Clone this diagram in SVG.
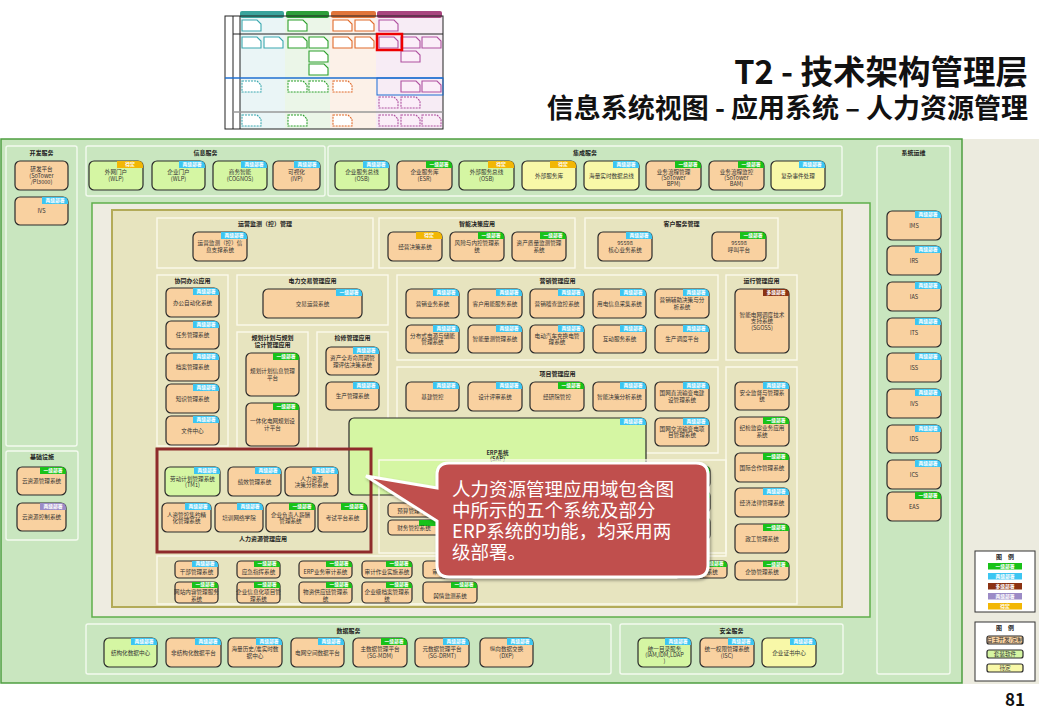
<svg xmlns="http://www.w3.org/2000/svg" width="1039" height="720" viewBox="0 0 1039 720">
<defs>
<style>
.t{font-family:"Noto Sans CJK SC","Noto Sans",sans-serif;font-size:5.6px;fill:#333;text-anchor:middle}
.pt{font-family:"Noto Sans CJK SC","Noto Sans",sans-serif;font-size:6px;font-weight:bold;fill:#222;text-anchor:middle}
.bt{font-family:"Noto Sans CJK SC","Noto Sans",sans-serif;font-size:4.8px;font-weight:bold;fill:#fff;text-anchor:middle}
.ct{font-family:"Noto Sans CJK SC","Noto Sans",sans-serif;font-size:18.5px;fill:#fff}
.hd{font-family:"Noto Sans CJK SC","Noto Sans",sans-serif;font-weight:bold;fill:#111;text-anchor:end}
.o{fill:#f9d1a0;stroke:#2a2a2a;stroke-width:1.2}
.g{fill:#d5f6a3;stroke:#2a2a2a;stroke-width:1.2}
.y{fill:#f8f8a8;stroke:#2a2a2a;stroke-width:1.2}
.b1{fill:#19c219}.b2{fill:#3cc6f2}.bd{fill:#f2b705}.bm{fill:#8b3212}.bp{fill:#9b8bc6}
.p{fill:none;stroke:#f3faef;stroke-width:1.4}
.pk{fill:none;stroke:#fbf9ec;stroke-width:1.4}
.doc{stroke-width:1.1}
.dt{stroke:#3aa8b0;fill:#fff}.dg{stroke:#2ca02c;fill:#fff}.do{stroke:#e06a2a;fill:#fff}.dp{stroke:#b050a0;fill:#fbeef8}
.ds{stroke-dasharray:2 1}
</style>
<filter id="sh" x="-10%" y="-10%" width="130%" height="130%"><feDropShadow dx="1.5" dy="2" stdDeviation="1.5" flood-color="#000" flood-opacity="0.35"/></filter>
</defs>
<rect x="0" y="0" width="1039" height="720" fill="#fff"/>

<!-- thumbnail -->
<g id="thumbnail">
<rect x="240" y="16" width="45" height="113" fill="#eaf5f6"/>
<rect x="285" y="16" width="45" height="113" fill="#ebf6e8"/>
<rect x="330" y="16" width="46" height="113" fill="#fcf1e8"/>
<rect x="376" y="16" width="67" height="113" fill="#f7ecf5"/>
<rect x="240" y="11" width="44" height="7" rx="2" fill="#3aa39c"/>
<rect x="286" y="11" width="43" height="7" rx="2" fill="#2e9e3a"/>
<rect x="331" y="11" width="45" height="7" rx="2" fill="#e0753a"/>
<rect x="377" y="11" width="65" height="7" rx="2" fill="#a8457f"/>
<rect x="225" y="16" width="218" height="113" fill="none" stroke="#222" stroke-width="1"/>
<line x1="233" y1="16" x2="233" y2="129" stroke="#222"/>
<line x1="240" y1="16" x2="240" y2="129" stroke="#222"/>
<line x1="233" y1="34" x2="443" y2="34" stroke="#222"/>
<line x1="233" y1="112" x2="443" y2="112" stroke="#999" stroke-width="1.5"/>
<line x1="225" y1="78" x2="443" y2="78" stroke="#1f6fd0" stroke-width="1.5"/>
<rect x="377" y="78" width="66" height="17" fill="none" stroke="#1f6fd0" stroke-width="1"/>
<path class="doc dt" d="M242 20h15l4 4v7h-19z"/>
<path class="doc dg" d="M288 20h15l4 4v7h-19z"/>
<path class="doc do" d="M333 20h15l4 4v7h-19z"/>
<path class="doc do" d="M355 20h15l4 4v7h-19z"/>
<path class="doc dp" d="M379 20h15l4 4v7h-19z"/>
<path class="doc dt" d="M242 37h15l4 4v7h-19z"/>
<path class="doc dt" d="M264 37h15l4 4v7h-19z"/>
<path class="doc dg" d="M288 37h15l4 4v7h-19z"/>
<path class="doc dg" d="M309 37h15l4 4v7h-19z"/>
<path class="doc dg" d="M309 51h15l4 4v7h-19z"/>
<path class="doc dg" d="M309 64h15l4 4v7h-19z"/>
<path class="doc do" d="M333 37h15l4 4v7h-19z"/>
<path class="doc do" d="M355 37h15l4 4v7h-19z"/>
<path class="doc dp" d="M379 37h15l4 4v7h-19z"/>
<path class="doc dp" d="M401 37h15l4 4v7h-19z"/>
<path class="doc dp" d="M422 37h15l4 4v7h-19z"/>
<path class="doc dp" d="M401 51h15l4 4v7h-19z"/>
<path class="doc dt ds" d="M242 81h15l4 4v7h-19z"/>
<path class="doc dg ds" d="M288 81h15l4 4v7h-19z"/>
<path class="doc dg ds" d="M309 81h15l4 4v7h-19z"/>
<path class="doc do ds" d="M333 81h15l4 4v7h-19z"/>
<path class="doc dp" d="M401 81h15l4 4v7h-19z"/>
<path class="doc dp" d="M422 81h15l4 4v7h-19z"/>
<path class="doc dp ds" d="M379 97h15l4 4v7h-19z"/>
<path class="doc dp ds" d="M401 97h15l4 4v7h-19z"/>
<path class="doc dt ds" d="M242 115h15l4 4v7h-19z"/>
<path class="doc dg ds" d="M288 115h15l4 4v7h-19z"/>
<path class="doc do ds" d="M333 115h15l4 4v7h-19z"/>
<path class="doc dp ds" d="M379 115h15l4 4v7h-19z"/>
<path class="doc dp ds" d="M401 115h15l4 4v7h-19z"/>
<path class="doc dp ds" d="M422 115h15l4 4v7h-19z"/>
<rect x="377" y="34" width="25" height="16" fill="none" stroke="#e00" stroke-width="2.5"/>
</g>

<!-- headings -->
<text class="hd" x="1028" y="84" font-size="32.5">T2 - 技术架构管理层</text>
<text class="hd" x="1028" y="118" font-size="27">信息系统视图 - 应用系统 – 人力资源管理</text>
<text class="hd" x="1025" y="706" font-size="17">81</text>

<!-- backgrounds -->
<rect x="962" y="139" width="77" height="545" fill="#ecebdf"/>
<rect x="1" y="139" width="961" height="544" fill="#c9e6bf" stroke="#4e9e40" stroke-width="1.5"/>
<rect x="92" y="203" width="778" height="414" fill="#eeece1" stroke="#5fae4b" stroke-width="1.5"/>
<rect x="112" y="210" width="730" height="397" fill="#e7e4bf" stroke="#b3ab58" stroke-width="2"/>

<!-- panels -->
<g id="panels">
<rect class="p" x="6" y="146" width="71" height="300" rx="2"/><text class="pt" x="41.5" y="155">开发服务</text>
<rect class="p" x="6" y="451" width="72" height="89" rx="2"/><text class="pt" x="42" y="459">基础设施</text>
<rect class="p" x="86" y="146" width="239" height="50" rx="2"/><text class="pt" x="205.5" y="155">信息服务</text>
<rect class="p" x="328" y="146" width="514" height="50" rx="2"/><text class="pt" x="585" y="155">集成服务</text>
<rect class="p" x="877" y="146" width="73" height="528" rx="2"/><text class="pt" x="913.5" y="155">系统运维</text>
<rect class="p" x="86" y="624" width="525" height="50" rx="2"/><text class="pt" x="348.5" y="633">数据服务</text>
<rect class="p" x="620" y="624" width="223" height="50" rx="2"/><text class="pt" x="731.5" y="633">安全服务</text>
<rect class="pk" x="157" y="218" width="216" height="50"/><text class="pt" x="265" y="226">运营监测（控）管理</text>
<rect class="pk" x="379" y="218" width="196" height="50"/><text class="pt" x="477" y="226">智能决策应用</text>
<rect class="pk" x="585" y="218" width="193" height="50"/><text class="pt" x="681.5" y="226">客户服务管理</text>
<rect class="pk" x="157" y="275" width="71" height="171"/><text class="pt" x="192.5" y="283">协同办公应用</text>
<rect class="pk" x="237" y="275" width="151" height="50"/><text class="pt" x="312.5" y="283">电力交易管理应用</text>
<rect class="pk" x="237" y="332" width="71" height="116"/><text class="pt" x="272.5" y="339.6">规划计划与规划</text><text class="pt" x="272.5" y="347">设计管理应用</text>
<rect class="pk" x="317" y="332" width="71" height="116"/><text class="pt" x="352.5" y="340">检修管理应用</text>
<rect class="pk" x="397" y="275" width="321" height="85"/><text class="pt" x="557.5" y="283">营销管理应用</text>
<rect class="pk" x="726" y="275" width="71" height="85"/><text class="pt" x="761.5" y="283">运行管理应用</text>
<rect class="pk" x="397" y="367" width="321" height="86"/><text class="pt" x="557.5" y="376">项目管理应用</text>
</g>

<g id="n-erp"><rect class="g" x="349" y="418" width="297" height="77" rx="5"/><path class="b2" d="M620 418H641Q646 418 646 423V425H620Z"/><text class="bt" x="633" y="423.3">两级部署</text><text class="t" x="497.5" y="454.5" font-weight="bold">ERP系统</text><text class="t" x="497.5" y="461.2" font-weight="bold">(SAP)</text></g>
<path class="pk" d="M726 367H797V604H157V556H726Z"/>
<rect class="pk" x="379" y="460" width="347" height="93"/>

<g id="connectors"></g>

<!-- 开发服务 -->
<g id="n-dev1"><rect class="o" x="15" y="161" width="53" height="29" rx="5"/><text class="t" x="41.5" y="171">研发平台</text><text class="t" x="41.5" y="177.5">(SoTower</text><text class="t" x="41.5" y="184">/PI3000)</text></g>
<g id="n-dev2"><rect class="o" x="15" y="197" width="53" height="28" rx="5"/><path class="b2" d="M42 197H63Q68 197 68 202V204H42Z"/><text class="bt" x="55" y="202.3">两级部署</text><text class="t" x="41.5" y="213">IVS</text></g>

<!-- 信息服务 -->
<g id="n-wlp1"><rect class="g" x="89" y="161" width="54" height="29" rx="5"/><path class="bd" d="M117 161H138Q143 161 143 166V168H117Z"/><text class="bt" x="130" y="166.3">待定</text><text class="t" x="116" y="174.25">外网门户</text><text class="t" x="116" y="180.75">(WLP)</text></g>
<g id="n-wlp2"><rect class="g" x="152" y="161" width="53" height="29" rx="5"/><path class="b2" d="M179 161H200Q205 161 205 166V168H179Z"/><text class="bt" x="192" y="166.3">两级部署</text><text class="t" x="178.5" y="174.25">企业门户</text><text class="t" x="178.5" y="180.75">(WLP)</text></g>
<g id="n-cognos"><rect class="g" x="213" y="161" width="54" height="29" rx="5"/><path class="b2" d="M241 161H262Q267 161 267 166V168H241Z"/><text class="bt" x="254" y="166.3">两级部署</text><text class="t" x="240" y="174.25">商务智能</text><text class="t" x="240" y="180.75">(COGNOS)</text></g>
<g id="n-ivp"><rect class="o" x="273" y="161" width="47" height="29" rx="5"/><path class="b2" d="M294 161H315Q320 161 320 166V168H294Z"/><text class="bt" x="307" y="166.3">两级部署</text><text class="t" x="296.5" y="174.25">可视化</text><text class="t" x="296.5" y="180.75">(IVP)</text></g>

<!-- 集成服务 -->
<g id="n-osb1"><rect class="g" x="335" y="161" width="54" height="29" rx="5"/><path class="b2" d="M363 161H384Q389 161 389 166V168H363Z"/><text class="bt" x="376" y="166.3">两级部署</text><text class="t" x="362" y="174.25">企业服务总线</text><text class="t" x="362" y="180.75">(OSB)</text></g>
<g id="n-esr"><rect class="o" x="397" y="161" width="55" height="29" rx="5"/><path class="b1" d="M426 161H447Q452 161 452 166V168H426Z"/><text class="bt" x="439" y="166.3">一级部署</text><text class="t" x="424.5" y="174.25">企业服务库</text><text class="t" x="424.5" y="180.75">(ESR)</text></g>
<g id="n-osb2"><rect class="g" x="459" y="161" width="55" height="29" rx="5"/><path class="bd" d="M488 161H509Q514 161 514 166V168H488Z"/><text class="bt" x="501" y="166.3">待定</text><text class="t" x="486.5" y="174.25">外部服务总线</text><text class="t" x="486.5" y="180.75">(OSB)</text></g>
<g id="n-extlib"><rect class="y" x="522" y="161" width="54" height="29" rx="5"/><path class="bd" d="M550 161H571Q576 161 576 166V168H550Z"/><text class="bt" x="563" y="166.3">待定</text><text class="t" x="549" y="177.5">外部服务库</text></g>
<g id="n-rtbus"><rect class="y" x="584" y="161" width="55" height="29" rx="5"/><path class="b2" d="M613 161H634Q639 161 639 166V168H613Z"/><text class="bt" x="626" y="166.3">两级部署</text><text class="t" x="611.5" y="177.5">海量实时数据总线</text></g>
<g id="n-bpm"><rect class="o" x="646" y="161" width="55" height="29" rx="5"/><path class="b1" d="M675 161H696Q701 161 701 166V168H675Z"/><text class="bt" x="688" y="166.3">一级部署</text><text class="t" x="673.5" y="173.7" font-size="5.1">业务流程管理</text><text class="t" x="673.5" y="179.7" font-size="5.1">(SoTower</text><text class="t" x="673.5" y="185.7" font-size="5.1">BPM)</text></g>
<g id="n-bam"><rect class="o" x="709" y="161" width="55" height="29" rx="5"/><path class="b1" d="M738 161H759Q764 161 764 166V168H738Z"/><text class="bt" x="751" y="166.3">一级部署</text><text class="t" x="736.5" y="173.7" font-size="5.1">业务流程监控</text><text class="t" x="736.5" y="179.7" font-size="5.1">(SoTower</text><text class="t" x="736.5" y="185.7" font-size="5.1">BAM)</text></g>
<g id="n-cep"><rect class="y" x="771" y="161" width="54" height="29" rx="5"/><path class="b2" d="M799 161H820Q825 161 825 166V168H799Z"/><text class="bt" x="812" y="166.3">两级部署</text><text class="t" x="798" y="177.5">复杂事件处理</text></g>

<!-- 系统运维 -->
<g id="n-ims"><rect class="o" x="887" y="211" width="54" height="29" rx="5"/><path class="b2" d="M915 211H936Q941 211 941 216V218H915Z"/><text class="bt" x="928" y="216.3">两级部署</text><text class="t" x="914" y="227.5">IMS</text></g>
<g id="n-irs"><rect class="o" x="887" y="246" width="54" height="29" rx="5"/><path class="b2" d="M915 246H936Q941 246 941 251V253H915Z"/><text class="bt" x="928" y="251.3">两级部署</text><text class="t" x="914" y="262.5">IRS</text></g>
<g id="n-ias"><rect class="o" x="887" y="282" width="54" height="29" rx="5"/><path class="b2" d="M915 282H936Q941 282 941 287V289H915Z"/><text class="bt" x="928" y="287.3">两级部署</text><text class="t" x="914" y="298.5">IAS</text></g>
<g id="n-its"><rect class="o" x="887" y="318" width="54" height="29" rx="5"/><path class="b2" d="M915 318H936Q941 318 941 323V325H915Z"/><text class="bt" x="928" y="323.3">两级部署</text><text class="t" x="914" y="334.5">ITS</text></g>
<g id="n-iss"><rect class="o" x="887" y="353" width="54" height="29" rx="5"/><path class="b2" d="M915 353H936Q941 353 941 358V360H915Z"/><text class="bt" x="928" y="358.3">两级部署</text><text class="t" x="914" y="369.5">ISS</text></g>
<g id="n-ivs2"><rect class="o" x="887" y="389" width="54" height="29" rx="5"/><path class="b2" d="M915 389H936Q941 389 941 394V396H915Z"/><text class="bt" x="928" y="394.3">两级部署</text><text class="t" x="914" y="405.5">IVS</text></g>
<g id="n-ids"><rect class="o" x="887" y="425" width="54" height="28" rx="5"/><path class="b2" d="M915 425H936Q941 425 941 430V432H915Z"/><text class="bt" x="928" y="430.3">两级部署</text><text class="t" x="914" y="441">IDS</text></g>
<g id="n-ics"><rect class="o" x="887" y="460" width="54" height="29" rx="5"/><path class="b2" d="M915 460H936Q941 460 941 465V467H915Z"/><text class="bt" x="928" y="465.3">两级部署</text><text class="t" x="914" y="476.5">ICS</text></g>
<g id="n-eas"><rect class="o" x="887" y="492" width="54" height="29" rx="5"/><path class="b1" d="M915 492H936Q941 492 941 497V499H915Z"/><text class="bt" x="928" y="497.3">一级部署</text><text class="t" x="914" y="508.5">EAS</text></g>

<!-- 基础设施 -->
<g id="n-cloud1"><rect class="o" x="17" y="467" width="49" height="28" rx="5"/><path class="b1" d="M40 467H61Q66 467 66 472V474H40Z"/><text class="bt" x="53" y="472.3">一级部署</text><text class="t" x="41.5" y="483">云资源管理系统</text></g>
<g id="n-cloud2"><rect class="o" x="17" y="503" width="49" height="28" rx="5"/><path class="bp" d="M40 503H61Q66 503 66 508V510H40Z"/><text class="bt" x="53" y="508.3">两级部署</text><text class="t" x="41.5" y="519">云资源控制系统</text></g>

<!-- 运营/智能决策/客户 -->
<g id="n-yyjc"><rect class="o" x="193" y="232" width="54" height="29" rx="5"/><path class="b2" d="M221 232H242Q247 232 247 237V239H221Z"/><text class="bt" x="234" y="237.3">两级部署</text><text class="t" x="220" y="245.25">运营监测（控）信</text><text class="t" x="220" y="251.75">息支撑系统</text></g>
<g id="n-jyjc"><rect class="o" x="388" y="232" width="54" height="29" rx="5"/><path class="bd" d="M416 232H437Q442 232 442 237V239H416Z"/><text class="bt" x="429" y="237.3">待定</text><text class="t" x="415" y="248.5">经营决策系统</text></g>
<g id="n-fxnk"><rect class="o" x="450" y="232" width="54" height="29" rx="5"/><path class="b1" d="M478 232H499Q504 232 504 237V239H478Z"/><text class="bt" x="491" y="237.3">一级部署</text><text class="t" x="477" y="245.25">风险与内控管理系</text><text class="t" x="477" y="251.75">统</text></g>
<g id="n-zczl"><rect class="o" x="512" y="232" width="54" height="29" rx="5"/><path class="b1" d="M540 232H561Q566 232 566 237V239H540Z"/><text class="bt" x="553" y="237.3">一级部署</text><text class="t" x="539" y="245.25">资产质量监测管理</text><text class="t" x="539" y="251.75">系统</text></g>
<g id="n-95598a"><rect class="o" x="598" y="232" width="54" height="29" rx="5"/><path class="b2" d="M626 232H647Q652 232 652 237V239H626Z"/><text class="bt" x="639" y="237.3">两级部署</text><text class="t" x="625" y="245.25">95598</text><text class="t" x="625" y="251.75">核心业务系统</text></g>
<g id="n-95598b"><rect class="o" x="712" y="232" width="54" height="29" rx="5"/><path class="b1" d="M740 232H761Q766 232 766 237V239H740Z"/><text class="bt" x="753" y="237.3">一级部署</text><text class="t" x="739" y="245.25">95598</text><text class="t" x="739" y="251.75">呼叫平台</text></g>

<!-- 协同办公 -->
<g id="n-oa"><rect class="o" x="166" y="288" width="53" height="29" rx="5"/><path class="b2" d="M193 288H214Q219 288 219 293V295H193Z"/><text class="bt" x="206" y="293.3">两级部署</text><text class="t" x="192.5" y="304.5">办公自动化系统</text></g>
<g id="n-rw"><rect class="o" x="166" y="321" width="53" height="28" rx="5"/><path class="b2" d="M193 321H214Q219 321 219 326V328H193Z"/><text class="bt" x="206" y="326.3">两级部署</text><text class="t" x="192.5" y="337">任务管理系统</text></g>
<g id="n-da"><rect class="o" x="166" y="353" width="53" height="28" rx="5"/><path class="b2" d="M193 353H214Q219 353 219 358V360H193Z"/><text class="bt" x="206" y="358.3">两级部署</text><text class="t" x="192.5" y="369">档案管理系统</text></g>
<g id="n-zs"><rect class="o" x="166" y="384" width="53" height="29" rx="5"/><path class="b2" d="M193 384H214Q219 384 219 389V391H193Z"/><text class="bt" x="206" y="389.3">两级部署</text><text class="t" x="192.5" y="400.5">知识管理系统</text></g>
<g id="n-wj"><rect class="o" x="166" y="416" width="53" height="29" rx="5"/><path class="b2" d="M193 416H214Q219 416 219 421V423H193Z"/><text class="bt" x="206" y="421.3">两级部署</text><text class="t" x="192.5" y="432.5">文件中心</text></g>

<!-- 电力交易/规划/检修 -->
<g id="n-jy"><rect class="o" x="263" y="289" width="99" height="29" rx="5"/><path class="b2" d="M336 289H357Q362 289 362 294V296H336Z"/><text class="bt" x="349" y="294.3">一级部署</text><text class="t" x="312.5" y="305.5">交易运营系统</text></g>
<g id="n-gh1"><rect class="o" x="246" y="353" width="53" height="43" rx="5"/><path class="b1" d="M273 353H294Q299 353 299 358V360H273Z"/><text class="bt" x="286" y="358.3">一级部署</text><text class="t" x="272.5" y="373.25">规划计划信息管理</text><text class="t" x="272.5" y="379.75">平台</text></g>
<g id="n-gh2"><rect class="o" x="246" y="403" width="53" height="43" rx="5"/><path class="b1" d="M273 403H294Q299 403 299 408V410H273Z"/><text class="bt" x="286" y="408.3">一级部署</text><text class="t" x="272.5" y="423.25">一体化电网规划设</text><text class="t" x="272.5" y="429.75">计平台</text></g>
<g id="n-jx1"><rect class="o" x="326" y="347" width="53" height="28" rx="5"/><path class="b2" d="M353 347H374Q379 347 379 352V354H353Z"/><text class="bt" x="366" y="352.3">两级部署</text><text class="t" x="352.5" y="360.2" font-size="5.5">资产全寿命周期管</text><text class="t" x="352.5" y="366.8" font-size="5.5">理评估决策系统</text></g>
<g id="n-jx2"><rect class="o" x="326" y="382" width="53" height="28" rx="5"/><path class="b2" d="M353 382H374Q379 382 379 387V389H353Z"/><text class="bt" x="366" y="387.3">两级部署</text><text class="t" x="352.5" y="398">生产管理系统</text></g>

<!-- 营销 -->
<g id="n-yx1"><rect class="o" x="406" y="289" width="53" height="29" rx="5"/><path class="b2" d="M433 289H454Q459 289 459 294V296H433Z"/><text class="bt" x="446" y="294.3">两级部署</text><text class="t" x="432.5" y="305.5">营销业务系统</text></g>
<g id="n-yx2"><rect class="o" x="468" y="289" width="54" height="29" rx="5"/><path class="b2" d="M496 289H517Q522 289 522 294V296H496Z"/><text class="bt" x="509" y="294.3">两级部署</text><text class="t" x="495" y="305.5">客户用能服务系统</text></g>
<g id="n-yx3"><rect class="o" x="530" y="289" width="54" height="29" rx="5"/><path class="b2" d="M558 289H579Q584 289 584 294V296H558Z"/><text class="bt" x="571" y="294.3">两级部署</text><text class="t" x="557" y="305.5">营销稽查监控系统</text></g>
<g id="n-yx4"><rect class="o" x="593" y="289" width="53" height="29" rx="5"/><path class="b2" d="M620 289H641Q646 289 646 294V296H620Z"/><text class="bt" x="633" y="294.3">两级部署</text><text class="t" x="619.5" y="305.5">用电信息采集系统</text></g>
<g id="n-yx5"><rect class="o" x="655" y="289" width="54" height="29" rx="5"/><path class="b2" d="M683 289H704Q709 289 709 294V296H683Z"/><text class="bt" x="696" y="294.3">两级部署</text><text class="t" x="682" y="302.25">营销辅助决策与分</text><text class="t" x="682" y="308.75">析系统</text></g>
<g id="n-yx6"><rect class="o" x="406" y="325" width="53" height="28" rx="5"/><path class="b2" d="M433 325H454Q459 325 459 330V332H433Z"/><text class="bt" x="446" y="330.3">两级部署</text><text class="t" x="432.5" y="337.75">分布式电源与储能</text><text class="t" x="432.5" y="344.25">管理系统</text></g>
<g id="n-yx7"><rect class="o" x="468" y="325" width="54" height="28" rx="5"/><path class="b2" d="M496 325H517Q522 325 522 330V332H496Z"/><text class="bt" x="509" y="330.3">两级部署</text><text class="t" x="495" y="341">智能量测管理系统</text></g>
<g id="n-yx8"><rect class="o" x="530" y="325" width="54" height="28" rx="5"/><path class="b2" d="M558 325H579Q584 325 584 330V332H558Z"/><text class="bt" x="571" y="330.3">两级部署</text><text class="t" x="557" y="337.75">电动汽车充换电管</text><text class="t" x="557" y="344.25">理系统</text></g>
<g id="n-yx9"><rect class="o" x="593" y="325" width="53" height="28" rx="5"/><path class="b2" d="M620 325H641Q646 325 646 330V332H620Z"/><text class="bt" x="633" y="330.3">两级部署</text><text class="t" x="619.5" y="341">互动服务系统</text></g>
<g id="n-yx10"><rect class="o" x="655" y="325" width="54" height="28" rx="5"/><path class="b2" d="M683 325H704Q709 325 709 330V332H683Z"/><text class="bt" x="696" y="330.3">两级部署</text><text class="t" x="682" y="341">生产调度平台</text></g>

<!-- 运行 -->
<g id="n-sgoss"><rect class="o" x="735" y="289" width="54" height="64" rx="5"/><path class="bm" d="M763 289H784Q789 289 789 294V296H763Z"/><text class="bt" x="776" y="294.3">多级部署</text><text class="t" x="762" y="316.5">智能电网调度技术</text><text class="t" x="762" y="323">支持系统</text><text class="t" x="762" y="329.5">(SGOSS)</text></g>

<!-- 项目 -->
<g id="n-xm1"><rect class="o" x="406" y="382" width="53" height="29" rx="5"/><path class="b2" d="M433 382H454Q459 382 459 387V389H433Z"/><text class="bt" x="446" y="387.3">两级部署</text><text class="t" x="432.5" y="398.5">基建管控</text></g>
<g id="n-xm2"><rect class="o" x="468" y="382" width="54" height="29" rx="5"/><path class="b2" d="M496 382H517Q522 382 522 387V389H496Z"/><text class="bt" x="509" y="387.3">两级部署</text><text class="t" x="495" y="398.5">设计评审系统</text></g>
<g id="n-xm3"><rect class="o" x="530" y="382" width="54" height="29" rx="5"/><path class="b1" d="M558 382H579Q584 382 584 387V389H558Z"/><text class="bt" x="571" y="387.3">一级部署</text><text class="t" x="557" y="398.5">经研院管控</text></g>
<g id="n-xm4"><rect class="o" x="593" y="382" width="53" height="29" rx="5"/><path class="b2" d="M620 382H641Q646 382 646 387V389H620Z"/><text class="bt" x="633" y="387.3">两级部署</text><text class="t" x="619.5" y="398.5">智能决策分析系统</text></g>
<g id="n-xm5"><rect class="o" x="655" y="382" width="54" height="29" rx="5"/><path class="b2" d="M683 382H704Q709 382 709 387V389H683Z"/><text class="bt" x="696" y="387.3">两级部署</text><text class="t" x="682" y="395.25">国网直流输变电建</text><text class="t" x="682" y="401.75">设管理系统</text></g>
<g id="n-xm6"><rect class="o" x="655" y="418" width="54" height="28" rx="5"/><path class="b2" d="M683 418H704Q709 418 709 423V425H683Z"/><text class="bt" x="696" y="423.3">两级部署</text><text class="t" x="682" y="430.75">国网交流输变电项</text><text class="t" x="682" y="437.25">目管理系统</text></g>

<!-- 右列 -->
<g id="n-aq"><rect class="o" x="735" y="382" width="54" height="28" rx="5"/><path class="b2" d="M763 382H784Q789 382 789 387V389H763Z"/><text class="bt" x="776" y="387.3">两级部署</text><text class="t" x="762" y="394.75">安全监督与管理系</text><text class="t" x="762" y="401.25">统</text></g>
<g id="n-jj"><rect class="o" x="735" y="417" width="54" height="29" rx="5"/><path class="b1" d="M763 417H784Q789 417 789 422V424H763Z"/><text class="bt" x="776" y="422.3">一级部署</text><text class="t" x="762" y="430.25">纪检监察业务应用</text><text class="t" x="762" y="436.75">系统</text></g>
<g id="n-gj"><rect class="o" x="735" y="453" width="54" height="29" rx="5"/><path class="b1" d="M763 453H784Q789 453 789 458V460H763Z"/><text class="bt" x="776" y="458.3">一级部署</text><text class="t" x="762" y="469.5">国际合作管理系统</text></g>
<g id="n-jf"><rect class="o" x="735" y="488" width="54" height="29" rx="5"/><path class="b2" d="M763 488H784Q789 488 789 493V495H763Z"/><text class="bt" x="776" y="493.3">两级部署</text><text class="t" x="762" y="504.5">经济法律管理系统</text></g>
<g id="n-zg"><rect class="o" x="735" y="524" width="54" height="29" rx="5"/><path class="b1" d="M763 524H784Q789 524 789 529V531H763Z"/><text class="bt" x="776" y="529.3">一级部署</text><text class="t" x="762" y="540.5">政工管理系统</text></g>
<g id="n-qx"><rect class="o" x="735" y="561" width="54" height="19" rx="5"/><path class="b1" d="M763 561H784Q789 561 789 566V567H763Z"/><text class="bt" x="776" y="565.6">一级部署</text><text class="t" x="762" y="574.4">企协管理系统</text></g>

<!-- ERP 子项 -->
<g id="n-erp-s1"><rect class="o" x="388" y="503" width="57" height="14" rx="4"/><path class="b2" d="M419 503H440Q445 503 445 507V509H419Z"/><text class="t" x="414" y="512.5">预算管理平台</text></g>
<g id="n-erp-s2"><rect class="o" x="388" y="520" width="57" height="15" rx="4"/><path class="b1" d="M419 520H440Q445 520 445 524V526H419Z"/><text class="t" x="414" y="530">财务管控系统</text></g>
<g id="n-h1"><rect class="o" x="656" y="466" width="54" height="22" rx="5"/><path class="b1" d="M684 466H705Q710 466 710 471V473H684Z"/></g>
<g id="n-h2"><rect class="o" x="656" y="491" width="54" height="22" rx="5"/><path class="b1" d="M684 491H705Q710 491 710 496V498H684Z"/></g>
<g id="n-h3"><rect class="o" x="656" y="517" width="54" height="23" rx="5"/><path class="b1" d="M684 517H705Q710 517 710 522V524H684Z"/></g>

<!-- HR -->
<g id="n-hr1"><rect class="g" x="165" y="467" width="55" height="29" rx="5"/><path class="b2" d="M194 467H215Q220 467 220 472V474H194Z"/><text class="bt" x="207" y="472.3">两级部署</text><text class="t" x="192.5" y="480.6">劳动计划管理系统</text><text class="t" x="192.5" y="487.2">(TM1)</text></g>
<g id="n-hr2"><rect class="o" x="228" y="467" width="53" height="29" rx="5"/><path class="b2" d="M255 467H276Q281 467 281 472V474H255Z"/><text class="bt" x="268" y="472.3">两级部署</text><text class="t" x="254.5" y="483.5">绩效管理系统</text></g>
<g id="n-hr3"><rect class="o" x="285" y="467" width="53" height="29" rx="5"/><path class="b2" d="M312 467H333Q338 467 338 472V474H312Z"/><text class="bt" x="325" y="472.3">两级部署</text><text class="t" x="311.5" y="480.6">人力资源</text><text class="t" x="311.5" y="487.2">决策分析系统</text></g>
<g id="n-hr4"><rect class="o" x="162" y="503" width="49" height="29" rx="5"/><path class="b2" d="M185 503H206Q211 503 211 508V510H185Z"/><text class="bt" x="198" y="508.3">两级部署</text><text class="t" x="186.5" y="516.6">人资管控集约精</text><text class="t" x="186.5" y="523.2">化管理系统</text></g>
<g id="n-hr5"><rect class="o" x="215" y="503" width="48" height="29" rx="5"/><path class="b2" d="M237 503H258Q263 503 263 508V510H237Z"/><text class="bt" x="250" y="508.3">两级部署</text><text class="t" x="239" y="519.5">培训网络学院</text></g>
<g id="n-hr6"><rect class="o" x="266" y="503" width="49" height="29" rx="5"/><path class="b1" d="M289 503H310Q315 503 315 508V510H289Z"/><text class="bt" x="302" y="508.3">一级部署</text><text class="t" x="290.5" y="516.6">企业负责人薪酬</text><text class="t" x="290.5" y="523.2">管理系统</text></g>
<g id="n-hr7"><rect class="o" x="318" y="503" width="49" height="29" rx="5"/><path class="b1" d="M341 503H362Q367 503 367 508V510H341Z"/><text class="bt" x="354" y="508.3">一级部署</text><text class="t" x="342.5" y="519.5">考试平台系统</text></g>
<text class="pt" x="263" y="541">人力资源管理应用</text>

<!-- 底部两行 -->
<g id="n-a1"><rect class="o" x="175" y="561" width="43" height="17" rx="4"/><path class="b2" d="M192 561H213Q218 561 218 565V567H192Z"/><text class="bt" x="205" y="565.4">两级部署</text><text class="t" x="196.5" y="574.3">干部管理系统</text></g>
<g id="n-a2"><rect class="o" x="237" y="561" width="43" height="17" rx="4"/><path class="b1" d="M254 561H275Q280 561 280 565V567H254Z"/><text class="bt" x="267" y="565.4">一级部署</text><text class="t" x="258.5" y="574.3">应急指挥系统</text></g>
<g id="n-a3"><rect class="o" x="299" y="561" width="53" height="17" rx="4"/><path class="b1" d="M326 561H347Q352 561 352 565V567H326Z"/><text class="bt" x="339" y="565.4">一级部署</text><text class="t" x="325.5" y="574.3">ERP业务审计系统</text></g>
<g id="n-a4"><rect class="o" x="362" y="561" width="50" height="17" rx="4"/><path class="b1" d="M386 561H407Q412 561 412 565V567H386Z"/><text class="bt" x="399" y="565.4">一级部署</text><text class="t" x="387" y="574.3">审计作业实施系统</text></g>
<g id="n-a5"><rect class="o" x="423" y="561" width="52" height="17" rx="4"/><path class="b1" d="M449 561H470Q475 561 475 565V567H449Z"/><text class="t" x="449" y="574.3">审计管理系统</text></g>
<g id="n-a6"><rect class="o" x="675" y="561" width="52" height="17" rx="4"/><path class="b1" d="M701 561H722Q727 561 727 565V567H701Z"/><text class="bt" x="714" y="565.4">一级部署</text><text class="t" x="701" y="574.3">后勤管理系统</text></g>
<g id="n-b1"><rect class="o" x="175" y="582" width="43" height="21" rx="4"/><path class="b1" d="M192 582H213Q218 582 218 586V588H192Z"/><text class="bt" x="205" y="586.4" font-size="4.4">一级部署</text><text class="t" x="196.5" y="594.3" font-size="4.6">网站内容管理服务</text><text class="t" x="196.5" y="601.1" font-size="4.6">系统</text></g>
<g id="n-b2"><rect class="o" x="237" y="582" width="43" height="21" rx="4"/><path class="b1" d="M254 582H275Q280 582 280 586V588H254Z"/><text class="bt" x="267" y="586.4" font-size="4.4">一级部署</text><text class="t" x="258.5" y="594.3" font-size="4.6">企业信息化项目管</text><text class="t" x="258.5" y="601.1" font-size="4.6">理系统</text></g>
<g id="n-b3"><rect class="o" x="299" y="582" width="53" height="21" rx="4"/><path class="b1" d="M326 582H347Q352 582 352 586V588H326Z"/><text class="bt" x="339" y="586.4" font-size="4.4">一级部署</text><text class="t" x="325.5" y="594.3" font-size="4.6">物资供应链管理系</text><text class="t" x="325.5" y="601.1" font-size="4.6">统</text></g>
<g id="n-b4"><rect class="o" x="362" y="582" width="50" height="21" rx="4"/><path class="b1" d="M386 582H407Q412 582 412 586V588H386Z"/><text class="bt" x="399" y="586.4" font-size="4.4">一级部署</text><text class="t" x="387" y="594.3" font-size="4.6">企业级档案管理系</text><text class="t" x="387" y="601.1" font-size="4.6">统</text></g>
<g id="n-b5"><rect class="o" x="423" y="582" width="54" height="21" rx="4"/><path class="b1" d="M451 582H472Q477 582 477 586V588H451Z"/><text class="bt" x="464" y="586.4" font-size="4.4">一级部署</text><text class="t" x="450" y="597.5">舆情监测系统</text></g>

<!-- 数据服务 -->
<g id="n-d1"><rect class="g" x="104" y="638" width="53" height="29" rx="5"/><path class="b2" d="M131 638H152Q157 638 157 643V645H131Z"/><text class="bt" x="144" y="643.3">两级部署</text><text class="t" x="130.5" y="654.5">结构化数据中心</text></g>
<g id="n-d2"><rect class="o" x="166" y="638" width="55" height="29" rx="5"/><path class="b2" d="M195 638H216Q221 638 221 643V645H195Z"/><text class="bt" x="208" y="643.3">两级部署</text><text class="t" x="193.5" y="654.5">非结构化数据平台</text></g>
<g id="n-d3"><rect class="o" x="228" y="638" width="54" height="29" rx="5"/><path class="b2" d="M256 638H277Q282 638 282 643V645H256Z"/><text class="bt" x="269" y="643.3">两级部署</text><text class="t" x="255" y="651.25">海量历史/准实时数</text><text class="t" x="255" y="657.75">据中心</text></g>
<g id="n-d4"><rect class="o" x="291" y="638" width="53" height="29" rx="5"/><path class="b2" d="M318 638H339Q344 638 344 643V645H318Z"/><text class="bt" x="331" y="643.3">两级部署</text><text class="t" x="317.5" y="654.5">电网空间数据平台</text></g>
<g id="n-d5"><rect class="o" x="353" y="638" width="54" height="29" rx="5"/><path class="b1" d="M381 638H402Q407 638 407 643V645H381Z"/><text class="bt" x="394" y="643.3">一级部署</text><text class="t" x="380" y="651.25">主数据管理平台</text><text class="t" x="380" y="657.75">(SG-MDM)</text></g>
<g id="n-d6"><rect class="o" x="415" y="638" width="54" height="29" rx="5"/><path class="b2" d="M443 638H464Q469 638 469 643V645H443Z"/><text class="bt" x="456" y="643.3">两级部署</text><text class="t" x="442" y="651.25">元数据管理平台</text><text class="t" x="442" y="657.75">(SG-DRMT)</text></g>
<g id="n-d7"><rect class="o" x="480" y="638" width="53" height="29" rx="5"/><path class="b2" d="M507 638H528Q533 638 533 643V645H507Z"/><text class="bt" x="520" y="643.3">两级部署</text><text class="t" x="506.5" y="651.25">纵向数据交换</text><text class="t" x="506.5" y="657.75">(DXP)</text></g>

<!-- 安全服务 -->
<g id="n-s1"><rect class="g" x="638" y="638" width="53" height="29" rx="5"/><path class="b2" d="M665 638H686Q691 638 691 643V645H665Z"/><text class="bt" x="678" y="643.3">两级部署</text><text class="t" x="664.5" y="651" font-size="5.1">统一目录服务</text><text class="t" x="664.5" y="657" font-size="5.1">(IAM,IDM,LDAP</text><text class="t" x="664.5" y="663" font-size="5.1">)</text></g>
<g id="n-s2"><rect class="o" x="700" y="638" width="54" height="29" rx="5"/><path class="b2" d="M728 638H749Q754 638 754 643V645H728Z"/><text class="bt" x="741" y="643.3">两级部署</text><text class="t" x="727" y="651.25">统一权限管理系统</text><text class="t" x="727" y="657.75">(ISC)</text></g>
<g id="n-s3"><rect class="y" x="762" y="638" width="54" height="29" rx="5"/><path class="b2" d="M790 638H811Q816 638 816 643V645H790Z"/><text class="bt" x="803" y="643.3">两级部署</text><text class="t" x="789" y="654.5">企业证书中心</text></g>

<!-- legends -->
<g id="legend1">
<rect x="975" y="551" width="60" height="61" fill="#fff" stroke="#333" stroke-width="1"/>
<text class="pt" x="1005" y="559">图　例</text>
<rect class="b1" x="988" y="563" width="34" height="6.5"/><text class="bt" x="1005" y="568">一级部署</text>
<rect class="b2" x="988" y="573" width="34" height="6.5"/><text class="bt" x="1005" y="578">两级部署</text>
<rect class="bm" x="988" y="583" width="34" height="6.5"/><text class="bt" x="1005" y="588">多级部署</text>
<rect class="bp" x="988" y="593" width="34" height="6.5"/><text class="bt" x="1005" y="598">两级部署</text>
<rect class="bd" x="988" y="603" width="34" height="6.5"/><text class="bt" x="1005" y="608">待定</text>
</g>
<g id="legend2">
<rect x="975" y="622" width="60" height="59" fill="#fff" stroke="#333" stroke-width="1"/>
<text class="pt" x="1005" y="630">图　例</text>
<rect class="o" x="987" y="636" width="36" height="8" rx="2"/><text class="t" x="1005" y="642" font-size="4.6">自主开发/定制</text>
<rect class="g" x="987" y="650" width="36" height="8" rx="2"/><text class="t" x="1005" y="656" font-size="4.6">套装软件</text>
<rect class="y" x="987" y="664" width="36" height="8" rx="2"/><text class="t" x="1005" y="670" font-size="4.6">待定</text>
</g>

<!-- highlight & callout -->
<rect id="hr-highlight" x="157" y="449" width="214" height="103" fill="none" stroke="#8e2b2b" stroke-width="3"/>
<g id="callout">
<path d="M449 463H696Q708 463 708 475V565Q708 577 696 577H449Q437 577 437 565V521L366 476L437 488V475Q437 463 449 463Z" fill="#c0504d" stroke="#fff" stroke-width="3" filter="url(#sh)"/>
<text class="ct" x="452" y="496"><tspan x="452" y="496">人力资源管理应用域包含图</tspan><tspan x="452" y="517">中所示的五个系统及部分</tspan><tspan x="452" y="538">ERP系统的功能，均采用两</tspan><tspan x="452" y="559">级部署。</tspan></text>
</g>
</svg>
